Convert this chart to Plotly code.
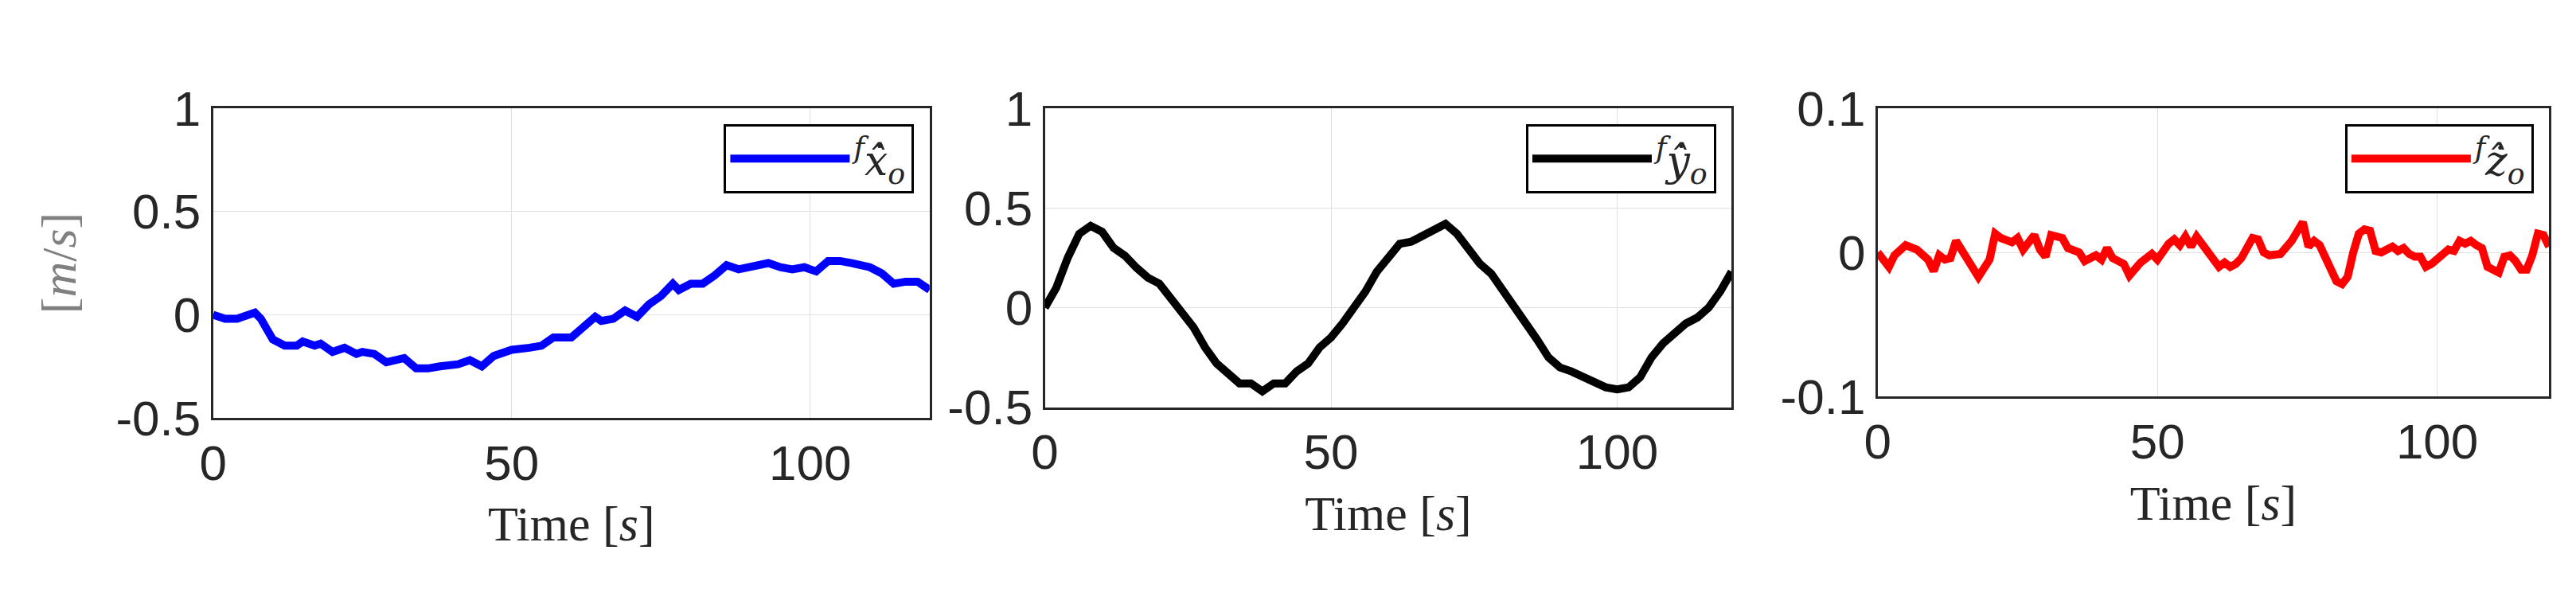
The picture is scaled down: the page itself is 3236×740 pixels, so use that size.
import plotly.graph_objects as go

# x velocity
tx = [0, 2, 4, 7, 8, 10, 12, 14, 15, 17, 18, 20, 22, 24, 25, 27, 29, 31, 32, 34, 36, 38, 40, 41, 43, 45, 47, 50,
      53, 55, 57, 60, 62, 64, 65, 67, 69, 71, 73, 75, 77, 78, 80, 82, 84, 86, 88, 90, 93, 95, 97, 99, 101, 103,
      105, 107, 110, 112, 114, 116, 118, 120]
vx = [0, -0.02, -0.02, 0.01, -0.02, -0.12, -0.15, -0.15, -0.13, -0.15, -0.14, -0.18, -0.16, -0.19, -0.18, -0.19,
      -0.23, -0.21, -0.21, -0.26, -0.26, -0.25, -0.24, -0.24, -0.22, -0.25, -0.2, -0.17, -0.16, -0.15, -0.11, -0.11,
      -0.06, -0.01, -0.03, -0.02, 0.02, -0.01, 0.05, 0.09, 0.15, 0.12, 0.15, 0.15, 0.19, 0.24, 0.22, 0.23, 0.25,
      0.23, 0.22, 0.23, 0.21, 0.26, 0.26, 0.25, 0.23, 0.2, 0.15, 0.16, 0.16, 0.12]

# y velocity
ty = list(range(0, 121, 2))
vy = [0, 0.1, 0.25, 0.37, 0.41, 0.38, 0.3, 0.26, 0.2, 0.15, 0.12, 0.05, -0.03, -0.1, -0.2, -0.28, -0.33, -0.38,
      -0.38, -0.42, -0.38, -0.38, -0.32, -0.28, -0.2, -0.15, -0.08, 0.0, 0.08, 0.18, 0.25, 0.32, 0.33, 0.36, 0.38,
      0.42, 0.37, 0.3, 0.22, 0.17, 0.09, 0.0, -0.08, -0.16, -0.25, -0.3, -0.32, -0.35, -0.38, -0.4, -0.41, -0.4,
      -0.35, -0.25, -0.18, -0.13, -0.08, -0.05, 0.0, 0.08, 0.18]

# z velocity
tz = [0, 2, 3, 5, 7, 9, 10, 11, 12, 13, 14, 16, 18, 20, 21, 22, 24, 25, 26, 28, 29, 30, 31, 33, 34, 36, 37, 39, 40,
      41, 42, 44, 45, 47, 49, 50, 52, 53, 54, 55, 56, 57, 58, 60, 61, 62, 63, 64, 65, 66, 67, 68, 69, 70, 72, 74,
      75, 76, 77, 78, 79, 81, 82, 83, 84, 85, 86, 87, 88, 89, 90, 91, 92, 93, 94, 95, 96, 97, 98, 99, 100, 101, 102,
      103, 104, 105, 106, 107, 108, 109, 110, 111, 112, 113, 114, 115, 116, 117, 118, 119, 120]
vz = [0, -0.01, -0.002, 0.005, 0.002, -0.005, -0.013, -0.002, -0.005, -0.004, 0.008, -0.005, -0.017, -0.005, 0.013,
      0.01, 0.007, 0.01, 0.002, 0.012, 0.002, -0.003, 0.012, 0.01, 0.003, 0.0, -0.006, -0.002, -0.005, 0.003, -0.004,
      -0.008, -0.016, -0.007, -0.001, -0.005, 0.006, 0.009, 0.005, 0.011, 0.004, 0.011, 0.006, -0.006, -0.01, -0.007,
      -0.01, -0.008, -0.004, 0.003, 0.01, 0.009, 0.0, -0.002, -0.001, 0.008, 0.014, 0.021, 0.004, 0.008, 0.005,
      -0.011, -0.02, -0.022, -0.017, 0.0, 0.013, 0.016, 0.015, 0.001, 0.0, 0.002, 0.004, 0.001, 0.003, -0.001, -0.003,
      -0.003, -0.01, -0.008, -0.005, -0.002, 0.002, 0.001, 0.008, 0.006, 0.008, 0.005, 0.003, -0.01, -0.012, -0.014,
      -0.003, -0.002, -0.006, -0.012, -0.012, -0.002, 0.013, 0.012, 0.004]

names = ["<sup><i>f</i></sup><i>x\u0307\u0302</i><sub><i>o</i></sub>",
         "<sup><i>f</i></sup><i>y\u0307\u0302</i><sub><i>o</i></sub>",
         "<sup><i>f</i></sup><i>z\u0307\u0302</i><sub><i>o</i></sub>"]
colors = ["#0000ff", "#000000", "#ff0000"]
series = [(tx, vx), (ty, vy), (tz, vz)]

xdoms = [[0.0754, 0.355], [0.400, 0.668], [0.725, 0.987]]
ydoms = [[0.28, 0.86], [0.30, 0.86], [0.32, 0.86]]
yranges = [[-0.5, 1], [-0.5, 1], [-0.1, 0.1]]
yticks = [[-0.5, 0, 0.5, 1], [-0.5, 0, 0.5, 1], [-0.1, 0, 0.1]]
yticktext = [["-0.5", "0", "0.5", "1"], ["-0.5", "0", "0.5", "1"], ["-0.1", "0", "0.1"]]

fig = go.Figure()
tickfont = dict(family="Liberation Sans", size=62, color="#262626")
titlefont = dict(family="Liberation Serif", size=62, color="#262626")

for i in range(3):
    s = "" if i == 0 else str(i + 1)
    fig.add_trace(go.Scatter(x=series[i][0], y=series[i][1], mode="lines", name=names[i],
                             line=dict(color=colors[i], width=10),
                             xaxis="x" + s, yaxis="y" + s, legend="legend" + s))
    fig.layout["xaxis" + s] = dict(domain=xdoms[i], anchor="y" + s, range=[0, 120],
                                   tickvals=[0, 50, 100], showgrid=True, gridcolor="#e0e0e0",
                                   showline=True, linecolor="#262626", linewidth=3, mirror=True,
                                   ticks="", tickfont=tickfont, zeroline=False,
                                   title=dict(text="Time [<i>s</i>]", font=titlefont, standoff=22))
    fig.layout["yaxis" + s] = dict(domain=ydoms[i], anchor="x" + s, range=yranges[i],
                                   tickvals=yticks[i], ticktext=yticktext[i], showgrid=True,
                                   gridcolor="#e0e0e0", showline=True, linecolor="#262626", linewidth=3,
                                   mirror=True, ticks="", tickfont=tickfont, zeroline=False)
    fig.layout["legend" + s] = dict(x=xdoms[i][1] - 0.006, y=ydoms[i][1] - 0.03, xanchor="right",
                                    yanchor="top", bgcolor="white", bordercolor="black", borderwidth=3,
                                    itemwidth=150,
                                    font=dict(family="DejaVu Serif", size=52, color="#262626"))

fig.layout.yaxis.title = dict(text="[<i>m</i>/<i>s</i>]", font=dict(family="Liberation Serif", size=62,
                                                                     color="#808080"), standoff=30)
fig.update_layout(width=3236, height=740, margin=dict(l=0, r=0, t=0, b=0),
                  plot_bgcolor="white", paper_bgcolor="white", showlegend=True)

fig.write_html("out.html")
